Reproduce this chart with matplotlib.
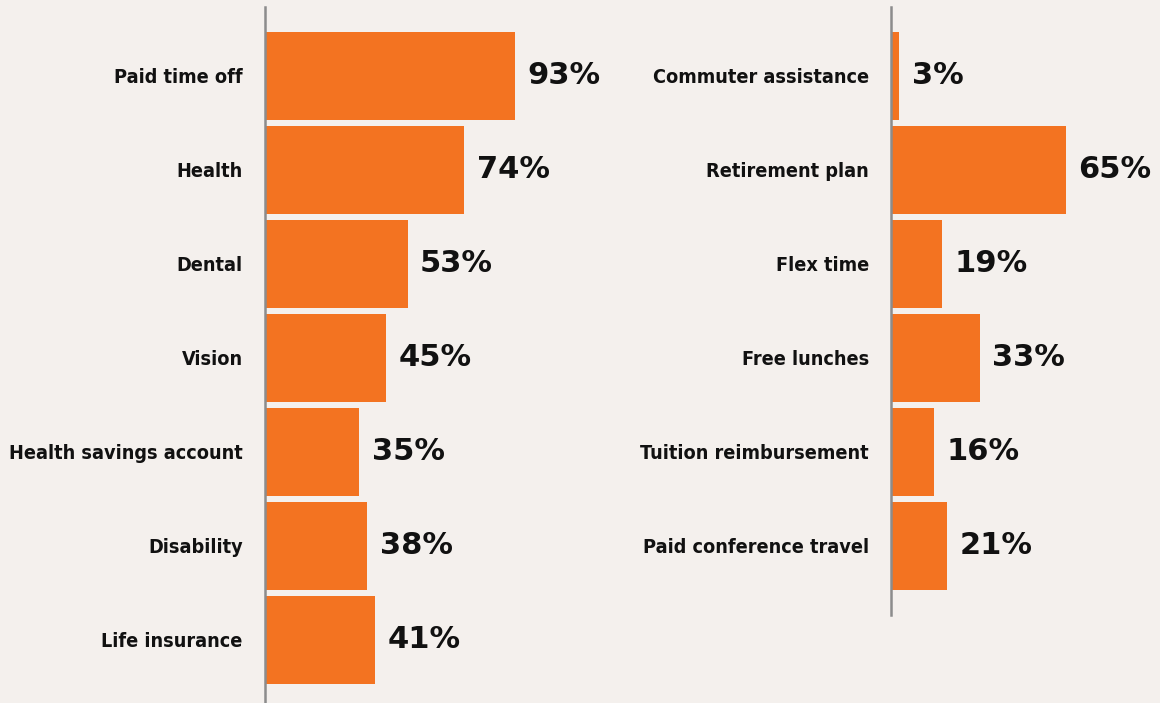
import matplotlib
matplotlib.use("Agg")
import matplotlib.pyplot as plt

# data
left_labels = ["Paid time off", "Health", "Dental", "Vision",
               "Health savings account", "Disability", "Life insurance"]
left_values = [93, 74, 53, 45, 35, 38, 41]

right_labels = ["Commuter assistance", "Retirement plan", "Flex time",
                "Free lunches", "Tuition reimbursement", "Paid conference travel"]
right_values = [3, 65, 19, 33, 16, 21]

bg = "#F4F0ED"
orange = "#F37321"
W, H = 1160, 703

fig = plt.figure(figsize=(W / 100, H / 100), dpi=100, facecolor=bg)


def panel(left_px, top_px, bottom_px, labels, values):
    n = len(labels)
    ax = fig.add_axes([left_px / W, 1 - bottom_px / H, 269 / W, (bottom_px - top_px) / H])
    ax.set_facecolor("none")
    ypos = list(range(n))
    ax.barh(ypos, values, height=0.93, color=orange, zorder=1)
    ax.set_xlim(0, 100)
    # 94 px per bar step, axis line starts ~69 px above first bar centre
    top_unit = -0.734
    span = (bottom_px - top_px) / 94.0
    ax.set_ylim(top_unit + span, top_unit)
    for s in ["top", "right", "bottom"]:
        ax.spines[s].set_visible(False)
    ax.spines["left"].set_color("#8C8C8C")
    ax.spines["left"].set_linewidth(1.8)
    ax.spines["left"].set_zorder(3)
    ax.set_xticks([])
    ax.set_yticks(ypos)
    ax.set_yticklabels(labels, family="DejaVu Sans", fontstretch="condensed",
                       fontweight="bold", fontsize=14.2, color="#111111")
    ax.tick_params(axis="y", length=0, pad=16)
    for y, v in zip(ypos, values):
        ax.annotate(f"{v}%", (v, y), xytext=(9, 0), textcoords="offset points",
                    ha="left", va="center", fontsize=22, fontweight="bold",
                    family="DejaVu Sans", color="#111111")
    return ax


panel(265, 7, 703, left_labels, left_values)
panel(891, 7, 615, right_labels, right_values)

fig.savefig("out.png", dpi=100, facecolor=bg)
